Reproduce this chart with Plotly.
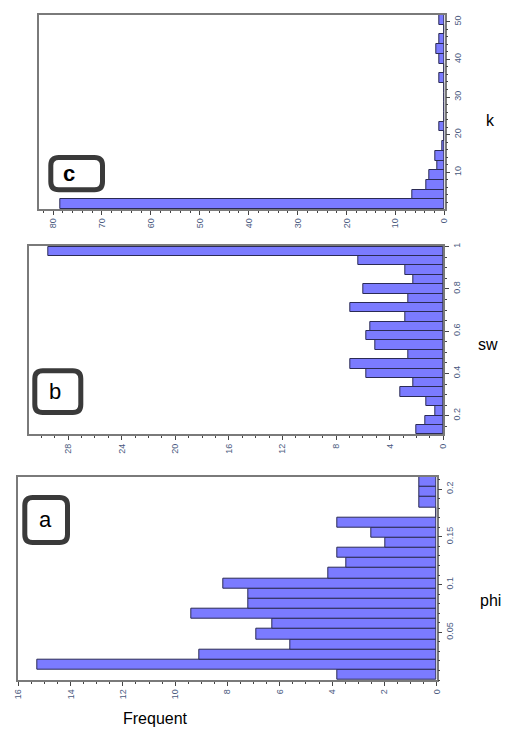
import plotly.graph_objects as go

# ---- data (bottom bin first) ----
phi_counts = [3.79, 15.28, 9.07, 5.6, 6.91, 6.27, 9.39, 7.2, 7.2, 8.16,
              4.15, 3.47, 3.79, 1.95, 2.52, 3.79, 0, 0.67, 0.67, 0.67]
phi_start, phi_width = 0.0, 0.01065

sw_counts = [1.99, 1.37, 0.62, 1.24, 3.23, 2.24, 5.72, 6.96, 2.6, 5.1,
             5.72, 5.47, 2.86, 6.96, 2.6, 5.97, 2.24, 2.86, 6.34, 29.45]
sw_start, sw_width = 0.112, 0.0444

k_counts = [78.6, 6.6, 3.8, 3.1, 1.4, 1.8, 0.5, 0, 1, 0,
            0, 0, 0, 1, 0, 1, 1.6, 1, 0, 1]
k_start, k_width = 0.25, 2.577

phi_ticks = [0.05, 0.1, 0.15, 0.2]
sw_ticks = [0.2, 0.4, 0.6, 0.8, 1]
k_ticks = [10, 20, 30, 40, 50]
phi_xticks = [0, 2, 4, 6, 8, 10, 12, 14, 16]
sw_xticks = [0, 4, 8, 12, 16, 20, 24, 28]
k_xticks = [0, 10, 20, 30, 40, 50, 60, 70, 80]

W, H = 510, 729

def centers(start, width, n):
    return [start + width * (i + 0.5) for i in range(n)]

fig = go.Figure()
bar_style = dict(orientation='h', marker=dict(color='#7b7bff', line=dict(color='#2b2b55', width=1)),
                 showlegend=False, hoverinfo='x+y')

fig.add_trace(go.Bar(x=k_counts, y=centers(k_start, k_width, len(k_counts)), width=k_width,
                     xaxis='x3', yaxis='y3', **bar_style))
fig.add_trace(go.Bar(x=sw_counts, y=centers(sw_start, sw_width, len(sw_counts)), width=sw_width,
                     xaxis='x2', yaxis='y2', **bar_style))
fig.add_trace(go.Bar(x=phi_counts, y=centers(phi_start, phi_width, len(phi_counts)), width=phi_width,
                     xaxis='x', yaxis='y', **bar_style))

def px_x(v):
    return v / W

def px_y(v):
    return 1 - v / H

tickfont = dict(family='Liberation Sans, Arial', size=9, color='#4a5a80')
common = dict(showgrid=False, zeroline=False, showline=True, linecolor='#7a7a7a', linewidth=1.5,
              mirror=True, ticks='outside', ticklen=4, tickcolor='#444', tickwidth=1,
              tickangle=-90, tickfont=tickfont, automargin=False)

def xax(domain, rng, tv, anchor, minor):
    return dict(domain=domain, range=rng, tickvals=tv, anchor=anchor,
                minor=dict(dtick=minor, ticks='outside', ticklen=2, tickcolor='#444'), **common)

def yax(domain, rng, tv, anchor, minor):
    return dict(domain=domain, range=rng, tickvals=tv, anchor=anchor, side='right',
                minor=dict(dtick=minor, ticks='outside', ticklen=2, tickcolor='#444'), **common)

fig.update_layout(
    width=W, height=H, margin=dict(l=0, r=0, t=0, b=0, autoexpand=False),
    paper_bgcolor='white', plot_bgcolor='white', bargap=0,
    # panel a (phi)
    xaxis=xax([px_x(18.3), px_x(436.7)], [16, 0], phi_xticks, 'y', 0.5),
    yaxis=yax([px_y(680), px_y(476.7)], [0, 0.213], phi_ticks, 'x', 0.01),
    # panel b (sw)
    xaxis2=xax([px_x(29.3), px_x(443.3)], [30.9, 0], sw_xticks, 'y2', 1),
    yaxis2=yax([px_y(434.3), px_y(246)], [0.112, 1.003], sw_ticks, 'x2', 0.05),
    # panel c (k)
    xaxis3=xax([px_x(39.3), px_x(444.5)], [82.8, 0], k_xticks, 'y3', 2),
    yaxis3=yax([px_y(209), px_y(15)], [0.25, 51.8], k_ticks, 'x3', 2),
)

labfont = dict(family='Liberation Sans, Arial', size=16, color='black')
annots = [
    dict(text='k', x=px_x(490), y=px_y(120)),
    dict(text='sw', x=px_x(488), y=px_y(345)),
    dict(text='phi', x=px_x(490), y=px_y(600)),
    dict(text='Frequent', x=px_x(155), y=px_y(718)),
]
for a in annots:
    fig.add_annotation(xref='paper', yref='paper', showarrow=False, font=labfont,
                       xanchor='center', yanchor='middle', **a)

def rounded_box(x0, y0, x1, y1, r=8):
    X = lambda v: px_x(v)
    Y = lambda v: px_y(v)
    rx, ry = r / W, r / H
    a, b, c, d = X(x0), X(x1), Y(y0), Y(y1)  # c top, d bottom (paper)
    return (f"M {a+rx},{c} L {b-rx},{c} Q {b},{c} {b},{c-ry} L {b},{d+ry} Q {b},{d} {b-rx},{d} "
            f"L {a+rx},{d} Q {a},{d} {a},{d+ry} L {a},{c-ry} Q {a},{c} {a+rx},{c} Z")

boxes = [((50.8, 157.5, 102.5, 189.8), 'c', 69, 173),
         ((34.8, 370.8, 80.8, 412.5), 'b', 55, 391),
         ((24.8, 497.5, 67.5, 542.5), 'a', 45, 519)]
for (x0, y0, x1, y1), letter, lx, ly in boxes:
    fig.add_shape(type='path', path=rounded_box(x0, y0, x1, y1), xref='paper', yref='paper',
                  line=dict(color='#3a3a3a', width=5), fillcolor='white')
    fig.add_annotation(xref='paper', yref='paper', x=px_x(lx), y=px_y(ly), text=f'<b>{letter}</b>' if letter == 'c' else letter,
                       showarrow=False, font=dict(family='Liberation Sans, Arial', size=22, color='black'),
                       xanchor='center', yanchor='middle')

fig.write_html('out.html', config={'displayModeBar': False},
               post_script="document.body.style.margin='0';document.body.style.overflow='hidden';")
